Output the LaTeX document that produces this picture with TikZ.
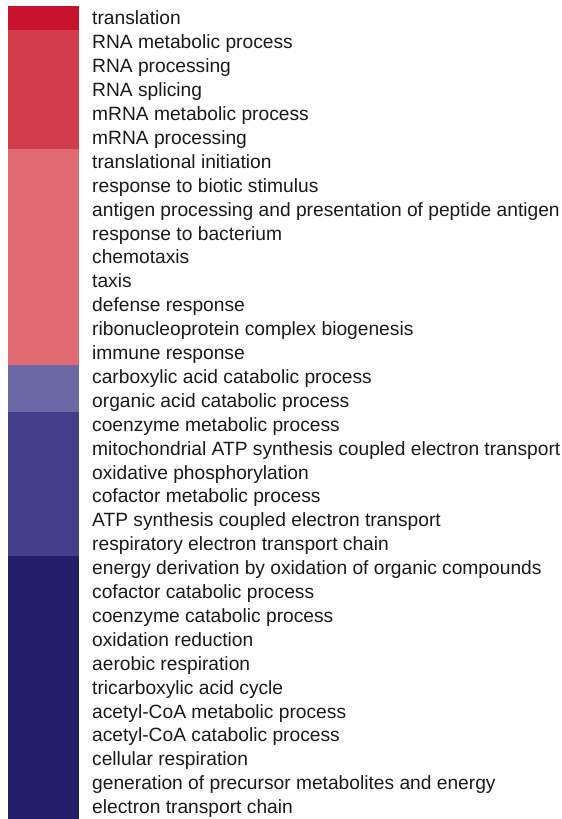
\documentclass[tikz,border=0pt]{standalone}
\usepackage{fontspec}
\setmainfont{Liberation Sans}
\definecolor{bandA}{HTML}{C8132F}
\definecolor{bandB}{HTML}{D23D4B}
\definecolor{bandC}{HTML}{E06A72}
\definecolor{bandD}{HTML}{6C68A6}
\definecolor{bandE}{HTML}{433E89}
\definecolor{bandF}{HTML}{221E6A}
\definecolor{txt}{HTML}{1A1A1A}
\begin{document}
\begin{tikzpicture}[x=1pt,y=-1pt,
  lbl/.style={anchor=base west, inner sep=0pt, font=\fontsize{19.2}{23}\selectfont, text=txt}]
\useasboundingbox (0,0) rectangle (562,819);
\def\rh{23.9}
\fill[bandA] (8,6) rectangle (79,{6+1*\rh});
\fill[bandB] (8,{6+1*\rh}) rectangle (79,{6+6*\rh});
\fill[bandC] (8,{6+6*\rh}) rectangle (79,{6+15*\rh});
\fill[bandD] (8,{6+15*\rh}) rectangle (79,{6+17*\rh});
\fill[bandE] (8,{6+17*\rh}) rectangle (79,{6+23*\rh});
\fill[bandF] (8,{6+23*\rh}) rectangle (79,819);
\foreach \t [count=\i] in {translation, RNA metabolic process, RNA processing, RNA splicing, mRNA metabolic process, mRNA processing, translational initiation, response to biotic stimulus, antigen processing and presentation of peptide antigen, response to bacterium, chemotaxis, taxis, defense response, ribonucleoprotein complex biogenesis, immune response, carboxylic acid catabolic process, organic acid catabolic process, coenzyme metabolic process, mitochondrial ATP synthesis coupled electron transport, oxidative phosphorylation, cofactor metabolic process, ATP synthesis coupled electron transport, respiratory electron transport chain, energy derivation by oxidation of organic compounds, cofactor catabolic process, coenzyme catabolic process, oxidation reduction, aerobic respiration, tricarboxylic acid cycle, acetyl-CoA metabolic process, acetyl-CoA catabolic process, cellular respiration, generation of precursor metabolites and energy, electron transport chain}
  \node[lbl] (t\i) at (92,{6+(\i-0.5)*\rh+7}) {\t};
\end{tikzpicture}
\end{document}
